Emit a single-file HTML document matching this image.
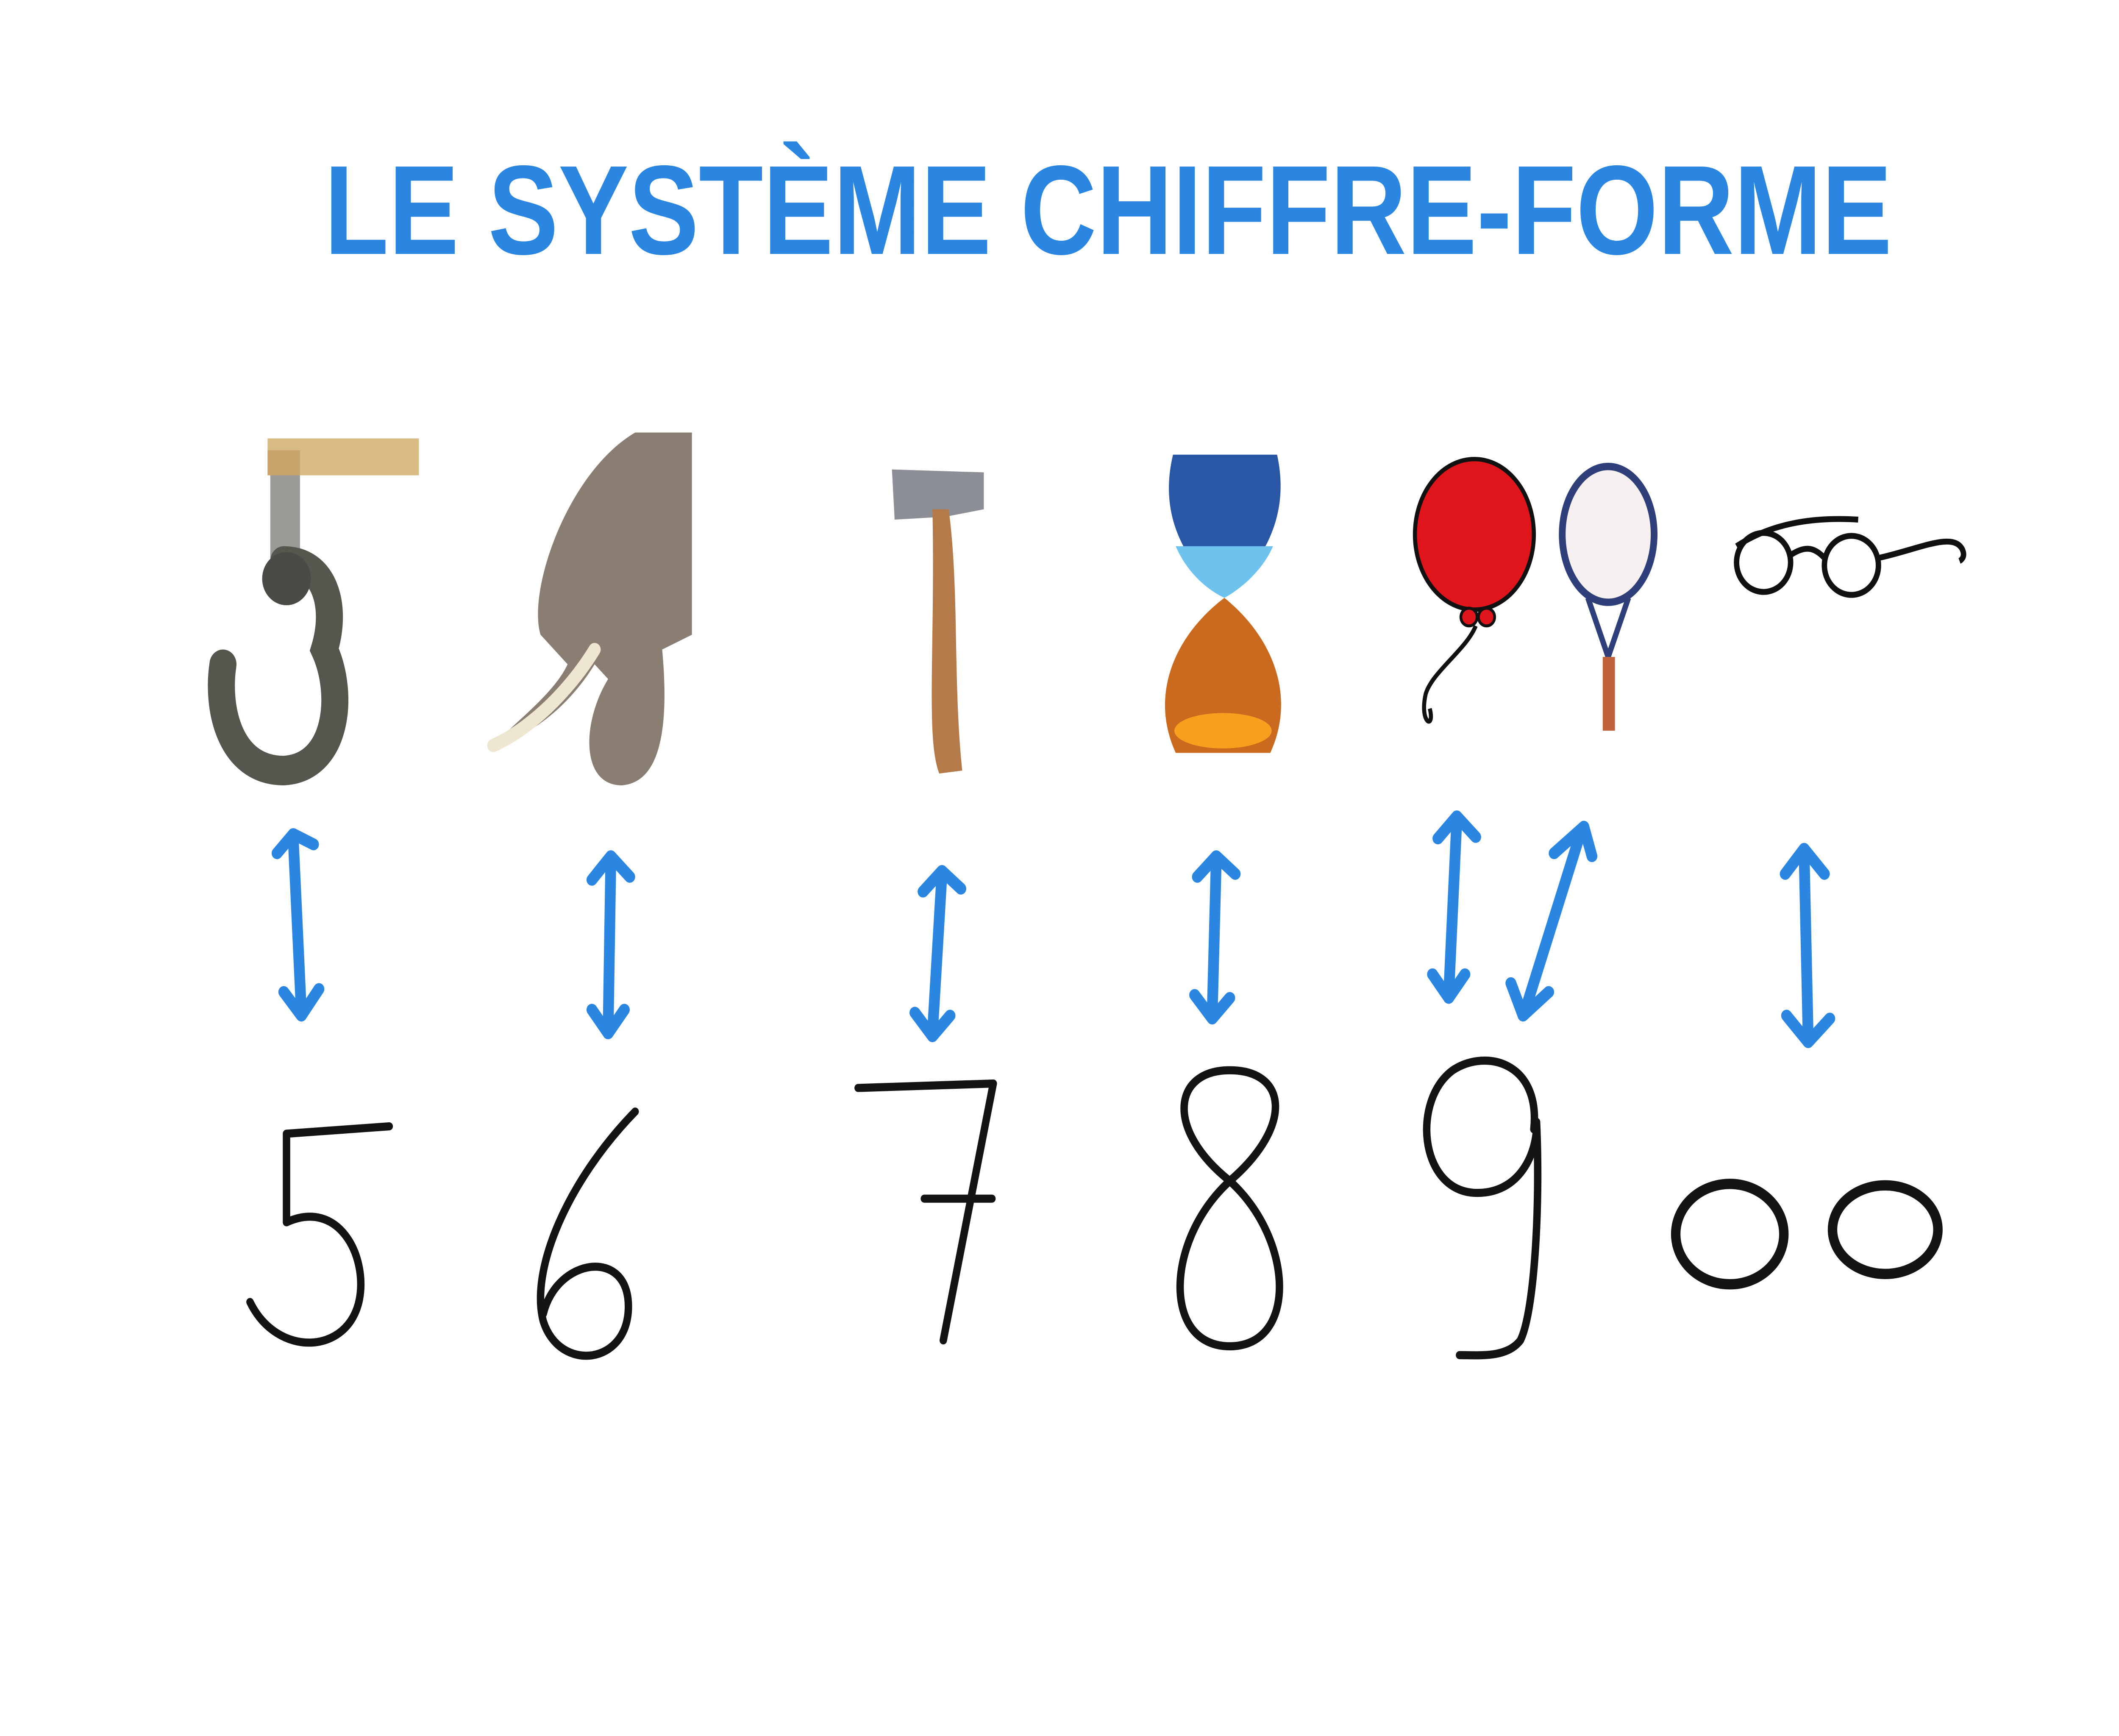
<!DOCTYPE html>
<html><head><meta charset="utf-8"><style>
html,body{margin:0;padding:0;background:#fff;overflow:hidden;width:100%;height:100%}
svg{display:block;width:100vw;height:100vh}
</style></head><body>
<svg viewBox="0 0 1568 1176" preserveAspectRatio="none" xmlns="http://www.w3.org/2000/svg">
<rect width="1568" height="1176" fill="#fff"/>
<text x="240" y="172" font-family="Liberation Sans, sans-serif" font-weight="bold" font-size="86" fill="#2a86e0" textLength="1160" lengthAdjust="spacingAndGlyphs">LE SYSTÈME CHIFFRE-FORME</text>

<g>
<rect x="198" y="297" width="112" height="25" fill="#d9bb86"/>
<rect x="198" y="305" width="24" height="17" fill="#c9a56b"/>
<rect x="200" y="322" width="22" height="65" fill="#9a9a96"/>
<path d="M210,380 C240,380 250,410 240,440 C255,470 250,520 210,522 C170,522 160,480 165,450" fill="none" stroke="#55564e" stroke-width="20" stroke-linecap="round"/>
<circle cx="212" cy="392" r="18" fill="#4a4b45"/>
</g>
<g>
<path d="M470,293 L512,293 L512,430 L490,440 C495,490 490,530 460,532 C430,532 430,490 450,460 L440,450 C420,480 390,500 365,505 C380,490 410,470 420,450 L400,430 C390,400 420,320 470,293 Z" fill="#8a7d72"/>
<path d="M440,440 C420,470 390,495 365,505" stroke="#efe6d2" stroke-width="9" fill="none" stroke-linecap="round"/>
</g>
<g>
<path d="M660,318 L728,320 L728,345 L700,350 L662,352 Z" fill="#8c8f96"/>
<path d="M702,345 C710,400 705,460 712,522 L695,524 C685,500 692,440 690,345 Z" fill="#b47a4a"/>
</g>
<g>
<path d="M868,308 L945,308 C955,350 935,380 906,405 C877,380 857,350 868,308 Z" fill="#2a56a6"/>
<path d="M870,370 L942,370 C935,385 920,398 906,405 C890,398 877,385 870,370 Z" fill="#6ec3ee"/>
<path d="M906,405 C940,430 960,470 940,510 L870,510 C850,470 870,430 906,405 Z" fill="#c96a1f"/>
<ellipse cx="905" cy="495" rx="36" ry="12" fill="#f7a01e"/>
</g>
<g>
<ellipse cx="1091" cy="362" rx="44" ry="51" fill="#e0141b" stroke="#111" stroke-width="3"/>
<circle cx="1087" cy="418" r="6" fill="#e0141b" stroke="#111" stroke-width="2"/>
<circle cx="1100" cy="418" r="6" fill="#e0141b" stroke="#111" stroke-width="2"/>
<path d="M1092,424 C1085,440 1060,455 1055,470 C1050,490 1062,495 1058,480" fill="none" stroke="#111" stroke-width="3"/>
</g>
<g>
<ellipse cx="1190" cy="362" rx="34" ry="46" fill="#f6f0f0" stroke="#2e3f7a" stroke-width="5"/>
<path d="M1175,405 L1190,445 L1205,405" fill="none" stroke="#2e3f7a" stroke-width="4"/>
<rect x="1186" y="445" width="9" height="50" fill="#c0623a"/>
</g>
<g fill="none" stroke="#111" stroke-width="4">
<circle cx="1305" cy="381" r="20"/><circle cx="1370" cy="383" r="20"/>
<path d="M1325,376 C1335,370 1342,370 1350,378"/>
<path d="M1390,378 C1420,372 1445,360 1452,372 C1455,378 1450,380 1450,380"/>
<path d="M1285,370 C1310,355 1340,350 1375,352"/>
</g>

<g fill="none" stroke="#2a86e0" stroke-width="8" stroke-linecap="round" stroke-linejoin="round">
<path d="M217,568 L223,686 M205,578 L217,565 L232,572 M210,672 L223,688 L236,670"/>
<path d="M452,582 L450,698 M438,596 L452,580 L466,594 M438,684 L450,700 L462,684"/>
<path d="M697,592 L690,700 M683,604 L697,590 L711,602 M677,686 L690,702 L703,688"/>
<path d="M900,582 L897,688 M886,594 L900,580 L914,592 M884,674 L897,690 L910,676"/>
<path d="M1078,555 L1072,674 M1064,568 L1078,553 L1092,567 M1060,660 L1072,676 L1084,660"/>
<path d="M1170,563 L1128,686 M1150,578 L1172,560 L1178,580 M1118,666 L1127,688 L1146,672"/>
<path d="M1335,578 L1338,704 M1321,592 L1335,575 L1350,592 M1322,688 L1338,706 L1354,690"/>
</g>

<g fill="none" stroke="#141414" stroke-width="5.5" stroke-linecap="round" stroke-linejoin="round">
<path d="M288,763 L212,768 L212,828 C250,812 272,850 266,880 C258,918 205,920 185,882"/>
<path d="M470,753 C420,800 392,860 402,895 C414,930 465,925 465,885 C465,845 412,852 402,890"/>
<path d="M635,737 L735,734 L698,908 M684,812 L734,812"/>
<path d="M910,800 C862,765 868,725 910,725 C952,725 958,762 910,800 C862,840 860,912 910,912 C960,912 958,840 910,800"/>
<path d="M1135,765 C1140,720 1100,710 1075,725 C1045,745 1050,805 1090,808 C1125,810 1138,780 1137,760 C1140,820 1135,890 1125,908 C1115,920 1095,918 1080,918"/>
<ellipse cx="1280" cy="836" rx="40" ry="34" stroke-width="7"/>
<ellipse cx="1395" cy="833" rx="39" ry="30" stroke-width="7"/>
</g>
</svg>
</body></html>
